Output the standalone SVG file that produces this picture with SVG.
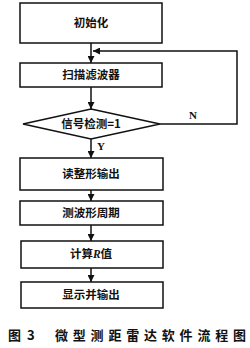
<svg xmlns="http://www.w3.org/2000/svg" width="250" height="348" viewBox="0 0 250 348">
<style>
.box{fill:#fff;stroke:#111;stroke-width:1.5}
.t{font-family:"Noto Sans CJK SC","Liberation Sans",sans-serif;font-size:11.5px;font-weight:bold;fill:#111;text-anchor:middle}
.l{font-family:"Liberation Serif",serif;font-size:11px;font-weight:bold;fill:#111}
.c{stroke:#111;stroke-width:1.5;fill:none}
.cap{font-family:"Noto Sans CJK SC",sans-serif;font-size:13px;font-weight:bold;fill:#111}
</style>
<defs>
<marker id="a" viewBox="0 0 10 10" refX="10" refY="5" markerWidth="7" markerHeight="7" markerUnits="userSpaceOnUse" orient="auto">
<path d="M0,0 L10,5 L0,10 Z" fill="#111"/>
</marker>
</defs>
<rect width="250" height="348" fill="#fff"/>
<g id="connectors">
<line class="c" x1="91" y1="43" x2="91" y2="63" marker-end="url(#a)"/>
<line class="c" x1="91" y1="87" x2="91" y2="109" marker-end="url(#a)"/>
<line class="c" x1="91" y1="139" x2="91" y2="158" marker-end="url(#a)"/>
<line class="c" x1="91" y1="190" x2="91" y2="201" marker-end="url(#a)"/>
<line class="c" x1="91" y1="225" x2="91" y2="241" marker-end="url(#a)"/>
<line class="c" x1="91" y1="268" x2="91" y2="282" marker-end="url(#a)"/>
<polyline class="c" points="160,124 237,124 237,51 93,51" marker-end="url(#a)"/>
<text class="l" x="189" y="119">N</text>
<text class="l" x="97" y="150">Y</text>
</g>
<g id="n1"><rect class="box" x="20" y="3" width="142" height="40"/><text class="t" x="91" y="27">初始化</text></g>
<g id="n2"><rect class="box" x="20" y="63" width="142" height="24"/><text class="t" x="91" y="79">扫描滤波器</text></g>
<g id="n3"><polygon class="box" points="91,109 160,124 91,139 23,124"/><text class="t" x="91" y="128">信号检测=1</text></g>
<g id="n4"><rect class="box" x="20" y="158" width="143" height="32"/><text class="t" x="91" y="178">读整形输出</text></g>
<g id="n5"><rect class="box" x="20" y="201" width="143" height="24"/><text class="t" x="91" y="217">测波形周期</text></g>
<g id="n6"><rect class="box" x="21" y="241" width="142" height="27"/><text class="t" x="91" y="258">计算<tspan font-style="italic" font-family="Liberation Serif,serif">R</tspan>值</text></g>
<g id="n7"><rect class="box" x="21" y="282" width="142" height="26"/><text class="t" x="91" y="299">显示并输出</text></g>
<g id="caption">
<text class="cap" x="8" y="340">图</text>
<text class="cap" x="27" y="340">3</text>
<text class="cap" x="55" y="340" textLength="191" lengthAdjust="spacing">微型测距雷达软件流程图</text>
</g>
</svg>
